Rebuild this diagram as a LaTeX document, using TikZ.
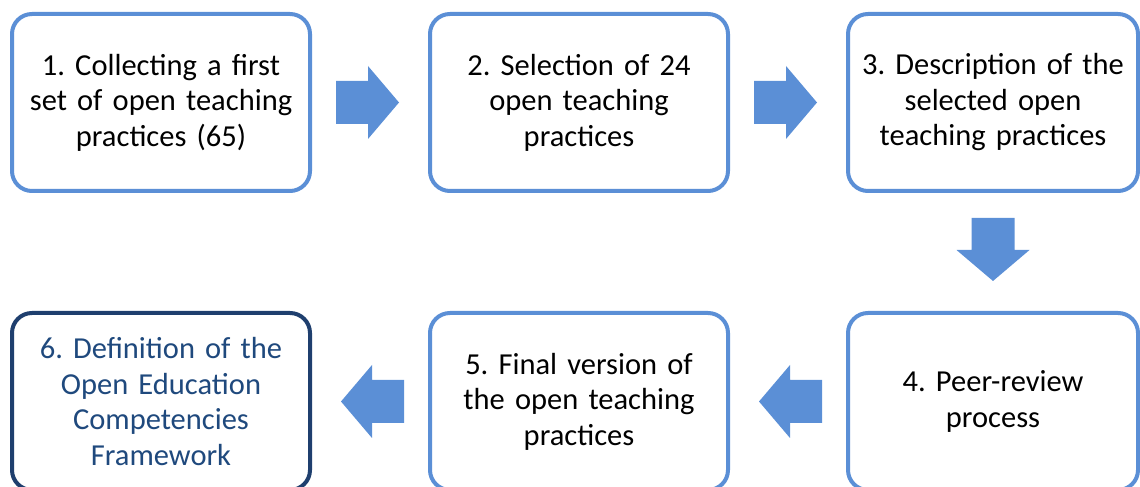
\documentclass[tikz,border=0pt]{standalone}
\usepackage{fontspec}
\setmainfont{Carlito}
\usetikzlibrary{positioning,calc}
\definecolor{stepblue}{HTML}{5B8FD6}
\definecolor{stepnavy}{HTML}{1F3F6E}
\definecolor{textnavy}{HTML}{1F497D}
\frenchspacing

\begin{document}
\begin{tikzpicture}[
        x=1pt, y=1pt,
        node distance=118pt and 116pt,
        every node/.style={align=center, font=\fontsize{30.5}{35.5}\selectfont},
        stage/.style={draw=stepblue, line width=4pt, rounded corners=20pt, fill=white, minimum width=298pt, minimum height=177pt, text width=284pt, inner sep=0pt},
        laststage/.style={stage, minimum width=290pt},
        finalstage/.style={stage, draw=stepnavy, text=textnavy},
        flow/.pic={\fill[stepblue] (-34,-21.5) -- (-2,-21.5) -- (-2,-36.5) -- (29,0) -- (-2,36.5) -- (-2,21.5) -- (-34,21.5) -- cycle;}
    ]
    \useasboundingbox (0,0) rectangle (1140,487);
    \clip (0,0) rectangle (1140,487);

    % Nodes
    \node (collect) [stage] at (161,384.5) {1. Collecting a first\\ set of open teaching\\ practices (65)};
    \node (select) [stage, right=of collect] {2. Selection of 24\\ open teaching\\ practices};
    \node (describe) [laststage, right=of select] {3. Description of the\\ selected open\\ teaching practices};
    \node (review) [laststage, below=of describe] {4. Peer-review\\ process};
    \node (final) [stage, left=of review] {5. Final version of\\ the open teaching\\ practices};
    \node (framework) [finalstage, left=of final] {6. Definition of the\\ Open Education\\ Competencies\\ Framework};

    % Edges
    \pic at ($(collect.east)!0.5!(select.west)$) {flow};
    \pic at ($(select.east)!0.5!(describe.west)$) {flow};
    \pic[rotate=-90] at ($(describe.south)!0.5!(review.north)$) {flow};
    \pic[rotate=180] at ($(review.west)!0.5!(final.east)$) {flow};
    \pic[rotate=180] at ($(final.west)!0.5!(framework.east)$) {flow};

\end{tikzpicture}
\end{document}
